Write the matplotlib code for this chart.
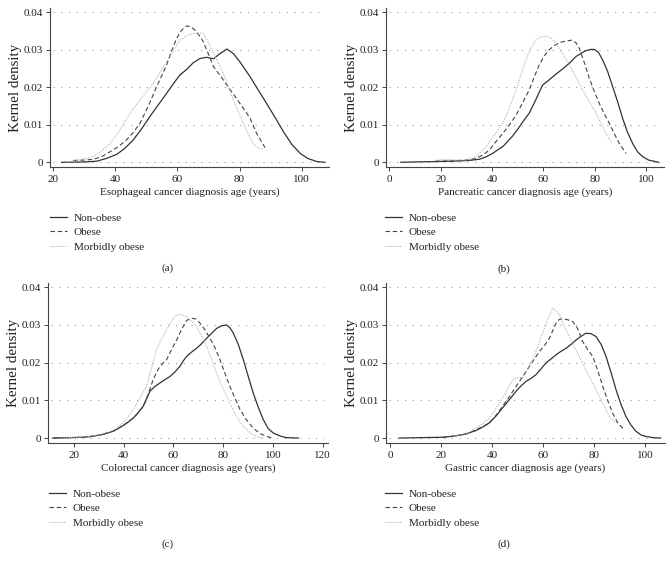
import matplotlib
matplotlib.use("Agg")
import matplotlib.pyplot as plt

plt.rcParams['font.family'] = ['Liberation Serif', 'DejaVu Serif']

# ---------------- data ----------------
labels = ["Non-obese", "Obese", "Morbidly obese"]
xlabels = ["Esophageal cancer diagnosis age (years)",
           "Pancreatic cancer diagnosis age (years)",
           "Colorectal cancer diagnosis age (years)",
           "Gastric cancer diagnosis age (years)"]
panel_tags = ["(a)", "(b)", "(c)", "(d)"]
xticks_a = [20, 40, 60, 80, 100]
xticks_b = [0, 20, 40, 60, 80, 100]
xticks_c = [20, 40, 60, 80, 100, 120]
xticks_d = [0, 20, 40, 60, 80, 100]
yticks = [0, 0.01, 0.02, 0.03, 0.04]
ytick_labels = ["0", "0.01", "0.02", "0.03", "0.04"]

# (a) Esophageal
nonobese_a_age = [22.7, 30, 34, 37, 40.4, 43, 45.8, 48.5, 51.1, 53.8, 56.5, 58.7, 60.8, 63, 65, 67.3,
                  69.4, 71.6, 73.7, 75.9, 78, 80.1, 83.4, 86, 88.7, 91.4, 94.1, 96.8, 99.5, 102, 104.9, 107.5]
nonobese_a_den = [0, 0.0001, 0.0003, 0.001, 0.0021, 0.0037, 0.006, 0.009, 0.0122, 0.0153, 0.0184, 0.021,
                  0.0233, 0.0248, 0.0265, 0.0277, 0.028, 0.0276, 0.029, 0.0302, 0.029, 0.0268, 0.0228,
                  0.0193, 0.0157, 0.012, 0.0082, 0.0048, 0.0024, 0.001, 0.0002, 0.0]
obese_a_age = [26.4, 30, 32.9, 35.5, 38.3, 41, 43.6, 45.8, 47.9, 50.6, 53.3, 55, 56.5, 58, 59.7, 61.3,
               63, 64.6, 66.2, 68.3, 70, 71.6, 73.7, 75.9, 78, 80.1, 82, 83.4, 85.5, 88.2]
obese_a_den = [0.0005, 0.0006, 0.0008, 0.0015, 0.0028, 0.0042, 0.006, 0.008, 0.0104, 0.015, 0.0202,
               0.0232, 0.026, 0.0295, 0.033, 0.0352, 0.0364, 0.036, 0.0348, 0.0322, 0.0288, 0.0255,
               0.0232, 0.0206, 0.0182, 0.0157, 0.0135, 0.0117, 0.0077, 0.0039]
morbid_a_age = [24.3, 28, 32.9, 35.5, 38.3, 41, 43.6, 45.8, 47.9, 50, 52.2, 54.4, 56.5, 58.7, 60.8, 63,
                65.1, 68.3, 70, 71.6, 73.2, 74.8, 76.4, 78, 79.6, 81.2, 82.8, 84.4, 86, 87.7]
morbid_a_den = [0.0, 0.0006, 0.0015, 0.003, 0.005, 0.008, 0.0117, 0.0143, 0.0166, 0.0188, 0.021, 0.024,
                0.0268, 0.0298, 0.0326, 0.0338, 0.0344, 0.0344, 0.032, 0.029, 0.0265, 0.0237, 0.02,
                0.0166, 0.0134, 0.0104, 0.0075, 0.005, 0.0038, 0.0035]

# (b) Pancreatic
nonobese_b_age = [4.5, 10, 18, 25, 31, 35, 37.5, 40.3, 42, 44.2, 46, 48, 50, 52, 54.5, 57, 59.7, 62.3,
                  64, 66.2, 68, 70.1, 72.7, 74.5, 76.6, 78.5, 79.9, 81.5, 83.1, 85, 87, 89, 90.9, 92.8,
                  94.8, 96.7, 98.7, 101, 105]
nonobese_b_den = [0, 0.0001, 0.0002, 0.0003, 0.0005, 0.0008, 0.0014, 0.0024, 0.0032, 0.0042, 0.0055,
                  0.007, 0.0088, 0.0108, 0.0131, 0.0166, 0.0206, 0.022, 0.023, 0.0242, 0.0252, 0.0264,
                  0.0282, 0.029, 0.0298, 0.0301, 0.0301, 0.0293, 0.0273, 0.0243, 0.0202, 0.016, 0.0117,
                  0.008, 0.005, 0.0028, 0.0015, 0.0006, 0.0]
obese_b_age = [18, 25, 30, 33.8, 36.5, 39, 41.5, 44.2, 47, 49.4, 52, 54.5, 56.5, 58.4, 60.5, 62.3, 64,
               66.2, 68.5, 71.4, 72.8, 74, 76, 77.9, 79.8, 81.8, 83.7, 85.7, 87.6, 89.6, 92.2]
obese_b_den = [0.0003, 0.0004, 0.0006, 0.001, 0.002, 0.0033, 0.0055, 0.0077, 0.0102, 0.0126, 0.016,
               0.0193, 0.0228, 0.026, 0.0285, 0.03, 0.031, 0.0319, 0.0323, 0.0326, 0.0318, 0.0304,
               0.0265, 0.0224, 0.019, 0.0157, 0.013, 0.0104, 0.0077, 0.005, 0.0024]
morbid_b_age = [18, 22, 26, 30, 33.8, 36, 37.7, 40, 42, 44.2, 46.8, 49.4, 51.3, 53.2, 55, 57.1, 59, 61,
                63, 64.9, 67.5, 70.1, 72.7, 75.3, 77.9, 80.5, 82.5, 84.4, 86, 87]
morbid_b_den = [0.0005, 0.0008, 0.0006, 0.0006, 0.0015, 0.003, 0.0042, 0.0065, 0.0082, 0.0104, 0.0145,
                0.0193, 0.0235, 0.0273, 0.0303, 0.0326, 0.0334, 0.0337, 0.0332, 0.0317, 0.029, 0.026,
                0.0227, 0.0193, 0.0162, 0.0131, 0.0104, 0.0077, 0.006, 0.005]

# (c) Colorectal
nonobese_c_age = [11.7, 18, 23.8, 27, 30.5, 33, 35.8, 37.8, 39.8, 41.8, 43.9, 46, 47.9, 49.3, 50.6, 52.6,
                  54.6, 56.6, 58.6, 60.6, 62.6, 64, 65.3, 67.3, 69.3, 71.3, 73.4, 75.4, 77.4, 79.4, 81.4,
                  82.8, 84.1, 86.1, 88.1, 90.1, 92.1, 94.1, 96.1, 98.1, 100.2, 103, 105.5, 110.2]
nonobese_c_den = [0, 0.0001, 0.0002, 0.0004, 0.0008, 0.0012, 0.0018, 0.0025, 0.0033, 0.0042, 0.0053,
                  0.0068, 0.0084, 0.0105, 0.0124, 0.0137, 0.0146, 0.0155, 0.0163, 0.0175, 0.019, 0.0205,
                  0.0216, 0.0228, 0.0238, 0.025, 0.0265, 0.0278, 0.0291, 0.0298, 0.03, 0.0292, 0.0278,
                  0.0248, 0.0208, 0.0163, 0.0119, 0.0082, 0.0049, 0.0025, 0.0013, 0.0005, 0.0001, 0.0]
obese_c_age = [12, 18, 23.8, 30.5, 35.8, 39.8, 43.9, 46, 47.9, 49.2, 50.6, 51.9, 53.3, 54.6, 57.3, 59.9,
               61.3, 62.6, 64, 65.3, 67.3, 69, 70.7, 72.7, 74.7, 76.7, 78.7, 80.7, 82.7, 84.8, 86.8, 89.4,
               92.1, 94.8, 97.5, 100]
obese_c_den = [0, 0.0001, 0.0002, 0.0008, 0.0018, 0.0033, 0.0053, 0.0068, 0.0085, 0.0102, 0.013, 0.0155,
               0.0175, 0.019, 0.0208, 0.0243, 0.026, 0.0278, 0.0297, 0.0312, 0.0318, 0.0316, 0.0305,
               0.0287, 0.0265, 0.024, 0.0208, 0.0172, 0.0137, 0.0105, 0.0075, 0.0048, 0.0026, 0.0012,
               0.0004, 0.0]
morbid_c_age = [15, 25, 30, 35, 37.2, 40.5, 43.9, 46.5, 49.2, 51.2, 53.2, 55.2, 57.3, 59.3, 61.3, 63.3,
                65.3, 67.3, 69.3, 71.3, 73.4, 75.4, 77.4, 79.4, 81.4, 83.4, 85.4, 87.4, 89.4, 91.5, 93.5, 96]
morbid_c_den = [0, 0.0003, 0.0008, 0.0018, 0.0026, 0.0045, 0.0075, 0.0105, 0.0137, 0.0185, 0.0234,
                0.0262, 0.0287, 0.031, 0.0327, 0.0328, 0.0322, 0.031, 0.0296, 0.0272, 0.0243, 0.0208,
                0.0172, 0.014, 0.011, 0.0082, 0.0057, 0.0037, 0.0022, 0.0011, 0.0004, 0.0]

# (d) Gastric
nonobese_d_age = [3.5, 12, 20.5, 25, 28.4, 31, 33.6, 36.2, 38.8, 41.4, 44, 46.7, 49.3, 51.2, 53.2, 55.1,
                  57.1, 59, 61, 63, 65, 66.9, 68.9, 70.8, 72.8, 74.8, 76.7, 78.7, 80.7, 82.7, 84.6, 86.5,
                  88.5, 90.4, 92.4, 94.3, 96.3, 98.3, 100.3, 103, 106]
nonobese_d_den = [0, 0.0001, 0.0002, 0.0005, 0.0009, 0.0014, 0.002, 0.0029, 0.004, 0.0058, 0.008, 0.0102,
                  0.0124, 0.0138, 0.015, 0.0158, 0.0168, 0.0183, 0.0199, 0.021, 0.0221, 0.023, 0.0238,
                  0.0248, 0.026, 0.027, 0.0278, 0.0277, 0.0269, 0.0248, 0.0216, 0.0175, 0.0128, 0.009,
                  0.0057, 0.0035, 0.0018, 0.0008, 0.0004, 0.0001, 0.0]
obese_d_age = [20.5, 25, 30, 33.6, 36.2, 38.8, 41.4, 44, 46.7, 49.3, 51.9, 54.5, 56.5, 58.4, 60.4, 62.4,
               63.7, 65, 66.3, 67.6, 69.5, 71.5, 73.5, 75.4, 77.4, 79.4, 81.3, 83.3, 85.2, 87.2, 89.2,
               91.1, 92]
obese_d_den = [0.0002, 0.0005, 0.0011, 0.0022, 0.003, 0.004, 0.006, 0.0084, 0.011, 0.0137, 0.0163, 0.019,
               0.021, 0.0229, 0.0245, 0.0265, 0.0285, 0.0305, 0.0315, 0.0316, 0.0314, 0.0309, 0.029,
               0.0256, 0.0235, 0.0216, 0.018, 0.0137, 0.01, 0.0066, 0.004, 0.0026, 0.0022]
morbid_d_age = [25, 30, 33.6, 36.2, 38.8, 41.4, 44, 46, 48, 49.9, 51.9, 53.8, 55.8, 57.7, 59.7, 61.7,
                63.7, 65, 66.3, 68.2, 70.2, 72.1, 74.1, 76, 78, 80, 82, 84, 85.9, 87.5, 89.1]
morbid_d_den = [0.0005, 0.0012, 0.0026, 0.0038, 0.0053, 0.0078, 0.0106, 0.013, 0.0155, 0.016, 0.016,
                0.0182, 0.0208, 0.024, 0.0278, 0.0315, 0.0344, 0.0338, 0.0327, 0.0298, 0.0269, 0.0243,
                0.0216, 0.019, 0.0163, 0.0137, 0.011, 0.0083, 0.0057, 0.0045, 0.004]

# ---------------- layout ----------------
W, H = 672, 566
fig = plt.figure(figsize=(W / 100, H / 100), dpi=100)
fig.patch.set_facecolor("white")

def px_axes(l, t, r, b):
    return fig.add_axes([l / W, 1 - b / H, (r - l) / W, (b - t) / H])

panels = [
    dict(box=(50, 8, 329, 167), xlim=(18.94, 108.8), ylim=(-0.00125, 0.04115), xticks=xticks_a,
         series=[(nonobese_a_age, nonobese_a_den), (obese_a_age, obese_a_den), (morbid_a_age, morbid_a_den)],
         leg=(50, 213), tag=(168, 268)),
    dict(box=(386, 8, 664, 167), xlim=(-1.29, 107.0), ylim=(-0.00125, 0.04115), xticks=xticks_b,
         series=[(nonobese_b_age, nonobese_b_den), (obese_b_age, obese_b_den), (morbid_b_age, morbid_b_den)],
         leg=(385, 213), tag=(504, 269)),
    dict(box=(48, 283, 328, 443), xlim=(9.67, 122.1), ylim=(-0.00132, 0.04114), xticks=xticks_c,
         series=[(nonobese_c_age, nonobese_c_den), (obese_c_age, obese_c_den), (morbid_c_age, morbid_c_den)],
         leg=(49, 489), tag=(168, 544)),
    dict(box=(386, 283, 665, 443), xlim=(-1.69, 107.7), ylim=(-0.00132, 0.04114), xticks=xticks_d,
         series=[(nonobese_d_age, nonobese_d_den), (obese_d_age, obese_d_den), (morbid_d_age, morbid_d_den)],
         leg=(385, 489), tag=(504, 544)),
]

styles = [dict(color="#333333", linestyle="-", linewidth=0.9),
          dict(color="#444444", linestyle=(0, (4, 2.5)), linewidth=0.8),
          dict(color="#b0b0b0", linestyle=(0, (1, 1.2)), linewidth=0.8)]

FS = 8
for i, p in enumerate(panels):
    ax = px_axes(*p["box"])
    ax.set_xlim(*p["xlim"])
    ax.set_ylim(*p["ylim"])
    for yv in yticks:
        ax.axhline(yv, xmin=0.01, xmax=0.985, color="#9a9a9a", linestyle=(0, (1, 6)),
                   linewidth=0.8, zorder=0)
    handles = []
    for (xs, ys), st, lab in zip(p["series"], styles, labels):
        h, = ax.plot(xs, ys, label=lab, **st)
        handles.append(h)
    ax.set_xticks(p["xticks"])
    ax.set_yticks(yticks)
    ax.set_yticklabels(ytick_labels)
    ax.tick_params(axis="both", direction="out", length=3, width=0.7, color="#444444",
                   labelsize=FS, pad=2, labelcolor="#222222")
    ax.tick_params(axis="x", pad=3)
    for side in ["top", "right"]:
        ax.spines[side].set_visible(False)
    for side in ["left", "bottom"]:
        ax.spines[side].set_color("#444444")
        ax.spines[side].set_linewidth(0.8)
    ax.set_xlabel(xlabels[i], fontsize=FS, labelpad=2, color="#222222")
    ax.set_ylabel("Kernel density", fontsize=10.8, labelpad=1, color="#222222")
    lx, ly = p["leg"]
    leg = ax.legend(handles=handles, loc="upper left", bbox_to_anchor=(lx / W, 1 - ly / H),
                    bbox_transform=fig.transFigure, frameon=False, fontsize=FS,
                    handlelength=1.55, handletextpad=0.6, labelspacing=0.42, borderpad=0,
                    borderaxespad=0)
    for t in leg.get_texts():
        t.set_color("#222222")
    tx, ty = p["tag"]
    fig.text(tx / W, 1 - ty / H, panel_tags[i], fontsize=FS, ha="center", va="center",
             color="#222222")

fig.savefig("out.png", dpi=100, facecolor="white")
